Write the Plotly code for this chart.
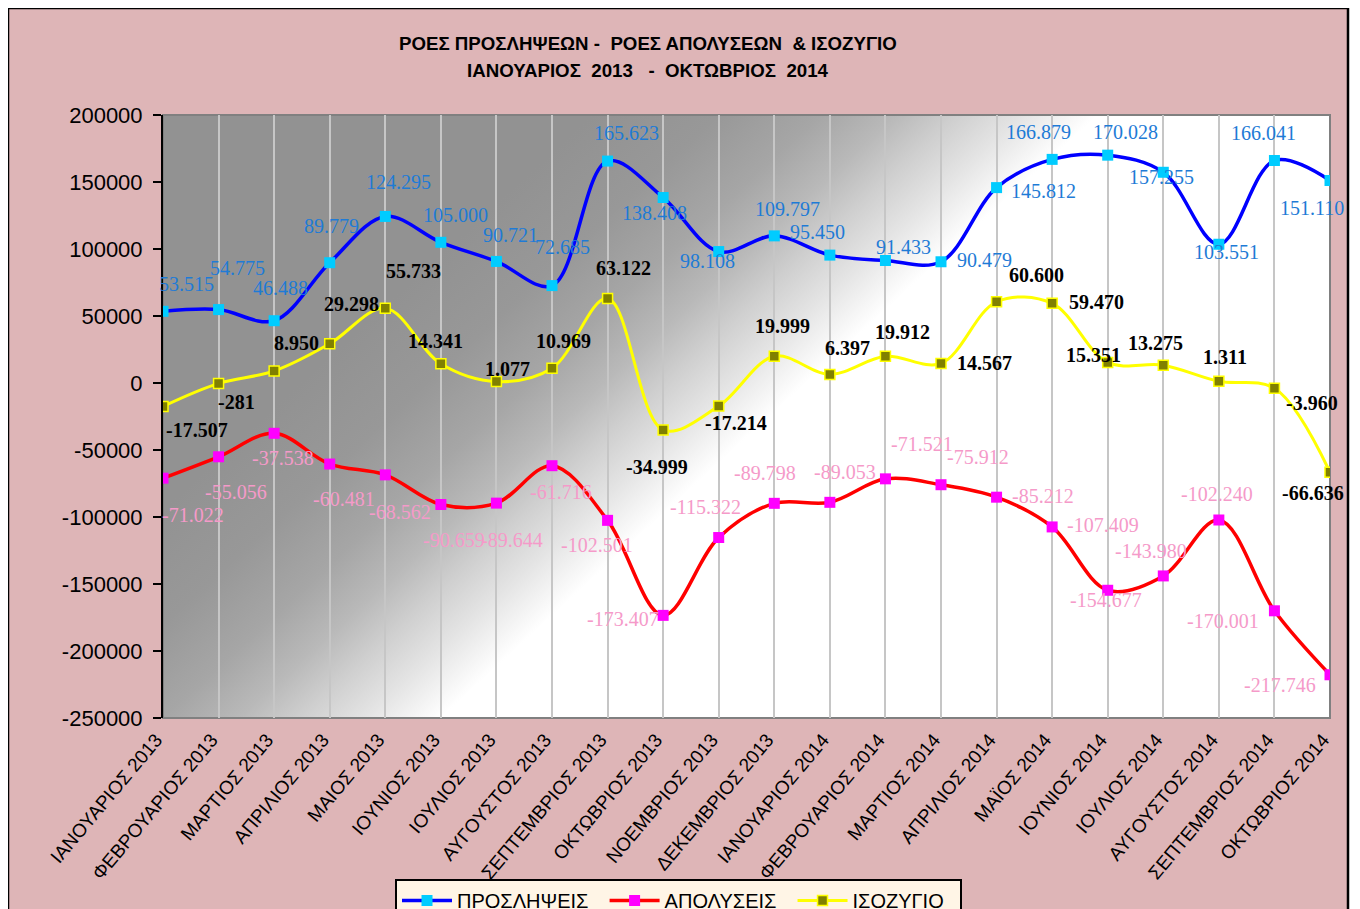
import base64
import plotly.graph_objects as go

# ---------------- data ----------------
months = [
    "ΙΑΝΟΥΑΡΙΟΣ 2013", "ΦΕΒΡΟΥΑΡΙΟΣ 2013", "ΜΑΡΤΙΟΣ 2013", "ΑΠΡΙΛΙΟΣ 2013",
    "ΜΑΙΟΣ 2013", "ΙΟΥΝΙΟΣ 2013", "ΙΟΥΛΙΟΣ 2013", "ΑΥΓΟΥΣΤΟΣ 2013",
    "ΣΕΠΤΕΜΒΡΙΟΣ 2013", "ΟΚΤΩΒΡΙΟΣ 2013", "ΝΟΕΜΒΡΙΟΣ 2013", "ΔΕΚΕΜΒΡΙΟΣ 2013",
    "ΙΑΝΟΥΑΡΙΟΣ 2014", "ΦΕΒΡΟΥΑΡΙΟΣ 2014", "ΜΑΡΤΙΟΣ 2014", "ΑΠΡΙΛΙΟΣ 2014",
    "ΜΑΪΟΣ 2014", "ΙΟΥΝΙΟΣ 2014", "ΙΟΥΛΙΟΣ 2014", "ΑΥΓΟΥΣΤΟΣ 2014",
    "ΣΕΠΤΕΜΒΡΙΟΣ 2014", "ΟΚΤΩΒΡΙΟΣ 2014",
]
hires = [53515, 54775, 46488, 89779, 124295, 105000, 90721, 72685, 165623, 138408,
         98108, 109797, 95450, 91433, 90479, 145812, 166879, 170028, 157255, 103551,
         166041, 151110]
dismissals = [-71022, -55056, -37538, -60481, -68562, -90659, -89644, -61716, -102501,
              -173407, -115322, -89798, -89053, -71521, -75912, -85212, -107409,
              -154677, -143980, -102240, -170001, -217746]
balance = [-17507, -281, 8950, 29298, 55733, 14341, 1077, 10969, 63122, -34999,
           -17214, 19999, 6397, 19912, 14567, 60600, 59470, 15351, 13275, 1311,
           -3960, -66636]
series_names = ["ΠΡΟΣΛΗΨΕΙΣ", "ΑΠΟΛΥΣΕΙΣ", "ΙΣΟΖΥΓΙΟ"]
title_lines = ["ΡΟΕΣ ΠΡΟΣΛΗΨΕΩΝ -\u00a0 ΡΟΕΣ ΑΠΟΛΥΣΕΩΝ\u00a0 & ΙΣΟΖΥΓΙΟ",
               "ΙΑΝΟΥΑΡΙΟΣ\u00a0 2013\u00a0\u00a0 -\u00a0 ΟΚΤΩΒΡΙΟΣ\u00a0 2014"]
y_ticks = [-250000, -200000, -150000, -100000, -50000, 0, 50000, 100000, 150000, 200000]

# ---------------- label offsets (px, style only) ----------------
hires_off = [(23, 27), (19, 42), (6, 33), (2, 37), (13, 34), (15, 27), (14, 26), (10, 39),
             (19, 28), (-9, -15), (-11, -9), (13, 27), (-12, 23), (18, 13), (43, 2),
             (47, -3), (-14, 27), (18, 23), (-2, -5), (8, -8), (-11, 28), (-18, -27)]
dism_off = [(30, -37), (17, -35), (9, -25), (14, -35), (15, -37), (13, -36), (16, -37),
            (9, -26), (-11, -25), (-40, -4), (-13, 31), (-9, 30), (15, 30), (37, 35),
            (37, 28), (46, 1), (51, 2), (-2, -10), (-12, 25), (-2, 26), (-51, -10),
            (-50, -10)]
bal_off = [(34, -24), (18, -19), (22, 28), (22, 40), (28, 37), (-5, 23), (11, 13),
           (11, 27), (16, 30), (-6, -37), (17, -17), (8, 30), (18, 26), (17, 24),
           (43, 0), (40, 27), (44, 1), (-14, 7), (-8, 22), (6, 24), (38, -15), (-17, -21)]

# page has an 8px body margin: figure coords = screen coords - 8
OFF = 8
W, H = 1360, 909
SL, SR, ST, SB = 163, 1330, 115, 718          # plot area in screen pixels
PW, PH = SR - SL, SB - ST
YMIN, YMAX = -250000, 200000


def px(X):
    return (X - SL) / PW


def py(Y):
    return (SB - Y) / PH


def fmt(v):
    return f"{v:,}".replace(",", ".")


fig = go.Figure()

fig.add_trace(go.Scatter(
    x=months, y=hires, name=series_names[0] + "\u00a0\u00a0", mode="lines+markers",
    line=dict(color="#0000FF", width=3.5, shape="spline", smoothing=1.0),
    marker=dict(symbol="square", size=11, color="#00CCFF", line=dict(width=0)),
))
fig.add_trace(go.Scatter(
    x=months, y=dismissals, name=series_names[1] + "\u00a0\u00a0", mode="lines+markers",
    line=dict(color="#FF0000", width=3.5, shape="spline", smoothing=1.0),
    marker=dict(symbol="square", size=11, color="#FF00FF", line=dict(width=0)),
))
fig.add_trace(go.Scatter(
    x=months, y=balance, name=series_names[2] + "\u00a0\u00a0", mode="lines+markers",
    line=dict(color="#FFFF00", width=3, shape="spline", smoothing=1.0),
    marker=dict(symbol="square", size=10, color="#808000",
                line=dict(width=1.5, color="#FFFF00")),
))

annotations = []
for vals, offs, color in [
    (hires, hires_off, "#1E7BD6"),
    (dismissals, dism_off, "#F59AC9"),
    (balance, bal_off, "#000000"),
]:
    bold = color == "#000000"
    for m, v, (dx, dy) in zip(months, vals, offs):
        annotations.append(dict(
            x=m, y=v, xref="x", yref="y",
            text=(f"<b>{fmt(v)}</b>" if bold else fmt(v)),
            showarrow=False, xshift=dx, yshift=dy,
            font=dict(family="Liberation Serif", size=20, color=color),
        ))

# title (two lines)
for txt, ty in zip(title_lines, [44, 70]):
    annotations.append(dict(
        x=px(648), y=py(ty), xref="paper", yref="paper", xanchor="center", yanchor="middle",
        text=f"<b>{txt}</b>", showarrow=False,
        font=dict(family="Liberation Sans", size=18.7, color="black"),
    ))

# gradient background for plot area (SVG data URI)
svg = (
    f"<svg xmlns='http://www.w3.org/2000/svg' width='{PW}' height='{PH}' "
    f"viewBox='0 0 {PW} {PH}' preserveAspectRatio='none'>"
    "<defs><linearGradient id='g' gradientUnits='userSpaceOnUse' x1='0' y1='0' x2='548.4' y2='597.8'>"
    "<stop offset='0' stop-color='#929292'/>"
    "<stop offset='0.358' stop-color='#929292'/>"
    "<stop offset='0.463' stop-color='#989898'/>"
    "<stop offset='0.548' stop-color='#A6A6A6'/>"
    "<stop offset='0.611' stop-color='#B9B9B9'/>"
    "<stop offset='0.662' stop-color='#CFCFCF'/>"
    "<stop offset='0.716' stop-color='#E4E4E4'/>"
    "<stop offset='0.779' stop-color='#FFFFFF'/>"
    "<stop offset='1' stop-color='#FFFFFF'/>"
    "</linearGradient></defs>"
    f"<rect x='0' y='0' width='{PW}' height='{PH}' fill='url(#g)'/></svg>"
)
src = "data:image/svg+xml;base64," + base64.b64encode(svg.encode()).decode()

shapes = [
    # white margin outside the outer frame
    dict(type="rect", xref="paper", yref="paper", x0=px(-20), x1=px(7), y0=py(940), y1=py(-20),
         fillcolor="white", line=dict(width=0), layer="below"),
    dict(type="rect", xref="paper", yref="paper", x0=px(-20), x1=px(1400), y0=py(7), y1=py(-20),
         fillcolor="white", line=dict(width=0), layer="below"),
    dict(type="rect", xref="paper", yref="paper", x0=px(1349), x1=px(1400), y0=py(940), y1=py(-20),
         fillcolor="white", line=dict(width=0), layer="below"),
    # outer frame
    dict(type="rect", xref="paper", yref="paper", x0=px(8), x1=px(1348), y0=py(935), y1=py(8),
         line=dict(color="black", width=2.5), layer="below"),
    # plot border
    dict(type="rect", xref="paper", yref="paper", x0=0, x1=1, y0=0, y1=1,
         line=dict(color="#808080", width=2), layer="below"),
]

zero_pos = (0 - YMIN) / (YMAX - YMIN)

fig.update_layout(
    width=W, height=H,
    margin=dict(l=SL - OFF, r=W - (SR - OFF), t=ST - OFF, b=H - (SB - OFF), autoexpand=False),
    paper_bgcolor="#DEB5B7",
    plot_bgcolor="rgba(0,0,0,0)",
    xaxis=dict(
        type="category", categoryorder="array", categoryarray=months,
        range=[0, len(months) - 1],
        showgrid=True, gridcolor="#C6C6C6", gridwidth=1.5,
        showline=False, zeroline=False, ticks="",
        tickangle=-50, ticklabelstandoff=6, ticklabelshift=-7,
        tickfont=dict(family="Liberation Sans", size=19, color="black"),
    ),
    xaxis2=dict(
        overlaying="x", anchor="free", position=zero_pos, side="bottom",
        range=[0, len(months) - 1], tickmode="array",
        tickvals=list(range(len(months))),
        showticklabels=False, showgrid=False, zeroline=False,
        showline=True, linecolor="black", linewidth=2,
        ticks="outside", ticklen=6, tickwidth=1.5, tickcolor="black",
    ),
    yaxis=dict(
        range=[YMIN, YMAX], tickmode="array", tickvals=y_ticks,
        ticktext=[str(v) for v in y_ticks],
        showgrid=False, zeroline=False,
        showline=True, linecolor="black", linewidth=2,
        ticks="outside", ticklen=8, tickwidth=1.5, tickcolor="black",
        ticklabelstandoff=6,
        tickfont=dict(family="Liberation Sans", size=22, color="black"),
    ),
    legend=dict(
        orientation="h", x=px(395), y=py(879), xanchor="left", yanchor="top",
        bgcolor="#FFF5E6", bordercolor="black", borderwidth=2,
        font=dict(family="Liberation Sans", size=20, color="black"),
        itemwidth=50,
    ),
    images=[dict(source=src, xref="paper", yref="paper", x=0, y=1, sizex=1, sizey=1,
                 xanchor="left", yanchor="top", sizing="stretch", layer="below")],
    shapes=shapes,
    annotations=annotations,
    showlegend=True,
)

fig.write_html("out.html")
